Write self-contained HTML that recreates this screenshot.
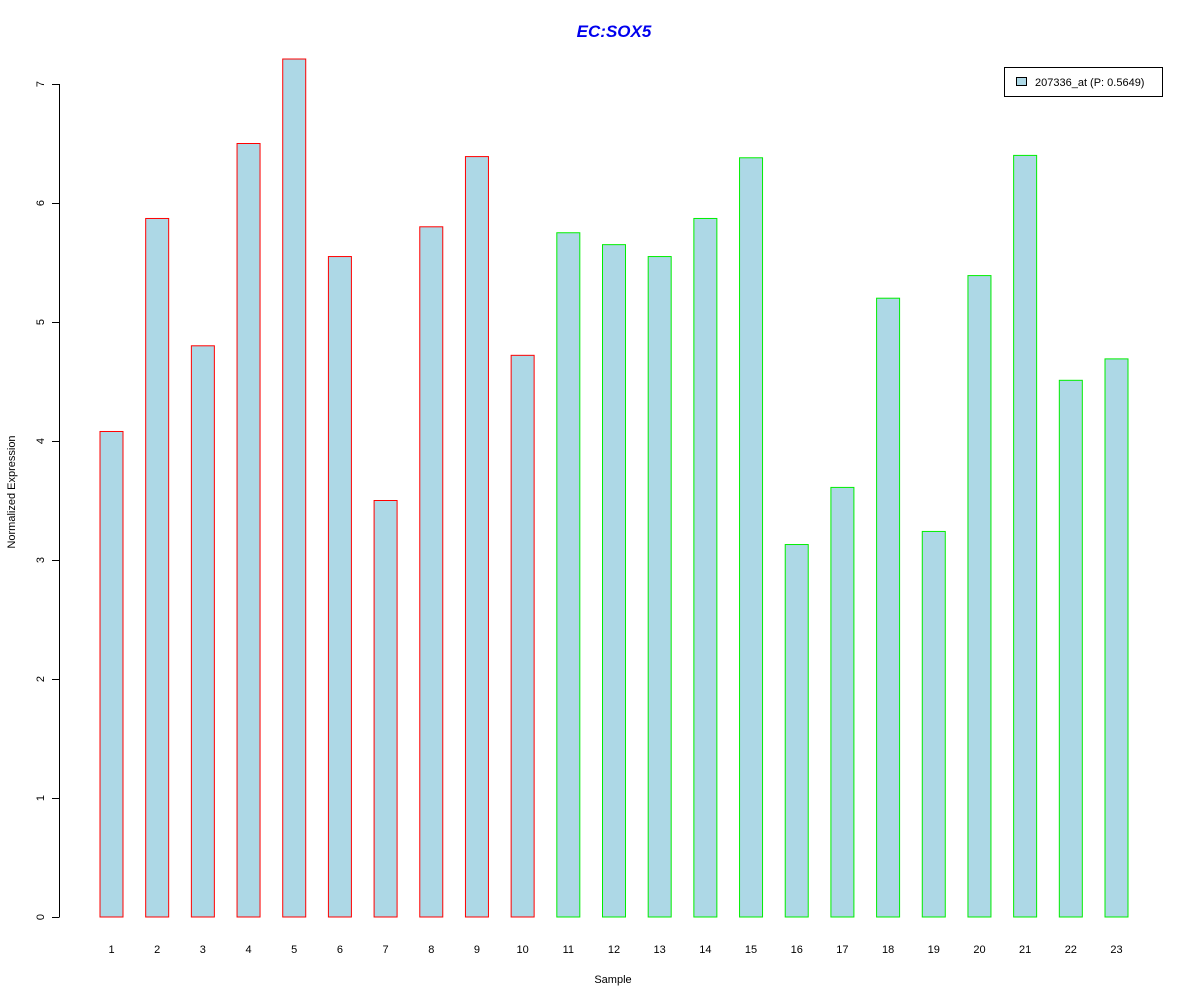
<!DOCTYPE html>
<html><head><meta charset="utf-8"><style>
html,body{margin:0;padding:0;background:#fff;}
svg{display:block;font-family:"Liberation Sans",Arial,sans-serif;}
</style></head><body>
<svg id="chart" width="1200" height="1000" viewBox="0 0 1200 1000">
<text x="614" y="37" text-anchor="middle" font-size="17" font-weight="bold" font-style="italic" fill="#0000ee">EC:SOX5</text>
<g id="yaxis"></g>
<g id="bars"></g>
<g id="xlabels"></g>
<text x="613" y="983" text-anchor="middle" font-size="11" fill="#000">Sample</text>
<text transform="translate(15,492) rotate(-90)" text-anchor="middle" font-size="11" fill="#000">Normalized Expression</text>
<g>
<rect x="1004.5" y="67.5" width="158" height="29" fill="#fff" stroke="#000"/>
<rect x="1016.5" y="77.5" width="10" height="8" fill="#add8e6" stroke="#000"/>
<text x="1035" y="86" font-size="11" fill="#000">207336_at (P: 0.5649)</text>
</g>
</svg>
<script>
const categories = ["1","2","3","4","5","6","7","8","9","10","11","12","13","14","15","16","17","18","19","20","21","22","23"];
const values = [4.08,5.87,4.80,6.50,7.21,5.55,3.50,5.80,6.39,4.72,5.75,5.65,5.55,5.87,6.38,3.13,3.61,5.20,3.24,5.39,6.40,4.51,4.69];
const groups = ["a","a","a","a","a","a","a","a","a","a","b","b","b","b","b","b","b","b","b","b","b","b","b"];
const yTicks = [0,1,2,3,4,5,6,7];
const NS = "http://www.w3.org/2000/svg";
function y(v){ return 917 - v * 119; }
function x(i){ return 111.5 + i * (1116.5 - 111.5) / (categories.length - 1); }
const ya = document.getElementById('yaxis');
const axisLine = document.createElementNS(NS,'line');


axisLine.setAttribute('x1',59.5);axisLine.setAttribute('x2',59.5);
axisLine.setAttribute('y1',y(yTicks[0]));axisLine.setAttribute('y2',y(yTicks[yTicks.length-1]));
axisLine.setAttribute('stroke','#000');
ya.appendChild(axisLine);
yTicks.forEach(t=>{
  const tk=document.createElementNS(NS,'line');
  
  
  tk.setAttribute('x1',52);tk.setAttribute('x2',59.5);
  tk.setAttribute('y1',y(t)+0.5);tk.setAttribute('y2',y(t)+0.5);
  tk.setAttribute('stroke','#000');
  ya.appendChild(tk);
  const lb=document.createElementNS(NS,'text');
  
  
  lb.setAttribute('transform','translate(44,'+y(t)+') rotate(-90)');
  lb.setAttribute('text-anchor','middle');
  lb.setAttribute('font-size','11');
  lb.textContent=t;
  ya.appendChild(lb);
});
const bg=document.getElementById('bars');
const xl=document.getElementById('xlabels');
values.forEach((v,i)=>{
  const r=document.createElementNS(NS,'rect');
  
  
  r.setAttribute('x',x(i)-11.5);
  r.setAttribute('y',y(v));
  r.setAttribute('width',23);
  r.setAttribute('height',y(0)-y(v));
  r.setAttribute('fill','#add8e6');
  r.setAttribute('stroke',groups[i]==='a'?'#ff0000':'#00ee00');
  bg.appendChild(r);
  const t=document.createElementNS(NS,'text');
  
  
  t.setAttribute('x',x(i));t.setAttribute('y',953);
  t.setAttribute('text-anchor','middle');t.setAttribute('font-size','11');
  t.textContent=categories[i];
  xl.appendChild(t);
});
</script>
</body></html>
